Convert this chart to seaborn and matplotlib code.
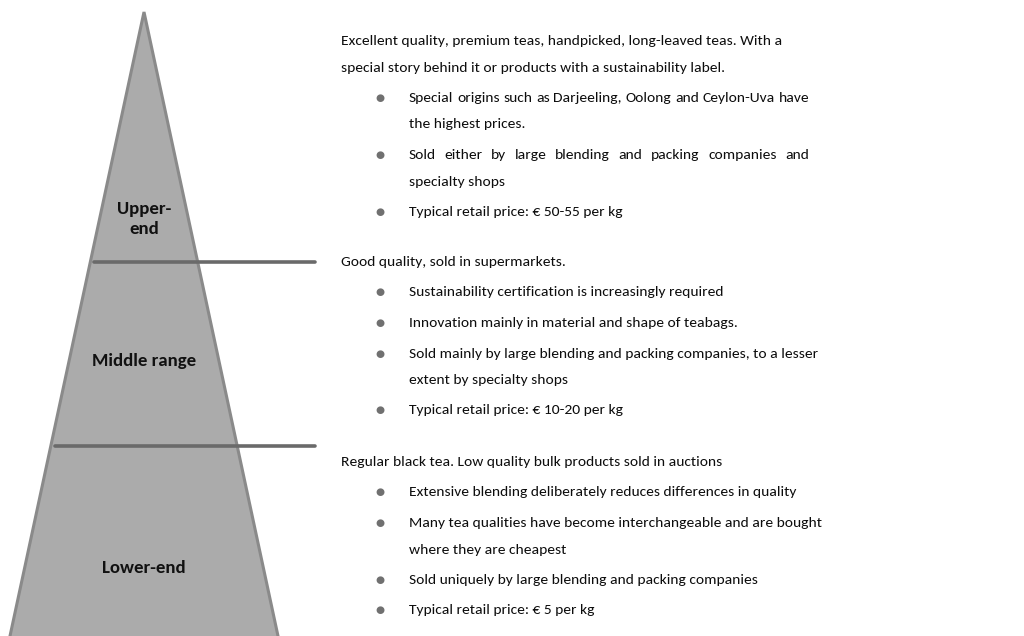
import matplotlib
matplotlib.use("Agg")
import matplotlib.pyplot as plt
import seaborn as sns
import pandas as pd
from matplotlib import font_manager

# ---------------- data ----------------
tier_labels = ["Upper-\nend", "Middle range", "Lower-end"]
tier_boundaries = [262, 446]          # divider heights (pixel units, top = 0)

intro_lines = [
    ["Excellent quality, premium teas, handpicked, long-leaved teas. With a",
     "special story behind it or products with a sustainability label."],
    ["Good quality, sold in supermarkets."],
    ["Regular black tea. Low quality bulk products sold in auctions"],
]
bullet_lines = [
    [["Special origins such as Darjeeling, Oolong and Ceylon-Uva have", "the highest prices."],
     ["Sold either by large blending and packing companies and", "specialty shops"],
     ["Typical retail price: \u20ac 50-55 per kg"]],
    [["Sustainability certification is increasingly required"],
     ["Innovation mainly in material and shape of teabags."],
     ["Sold mainly by large blending and packing companies, to a lesser", "extent by specialty shops"],
     ["Typical retail price: \u20ac 10-20 per kg"]],
    [["Extensive blending deliberately reduces differences in quality"],
     ["Many tea qualities have become interchangeable and are bought", "where they are cheapest"],
     ["Sold uniquely by large blending and packing companies"],
     ["Typical retail price: \u20ac 5 per kg"]],
]
justified = {("0", 0, 0), ("0", 1, 0)}   # (block, bullet, line) justified lines

# ---------------- layout ----------------
W, H = 1024, 636
sns.set_theme(style="white")
names = {f.name for f in font_manager.fontManager.ttflist}
main_font = "Lato"
for cand in ["Carlito", "Calibri", "Liberation Sans Narrow", "Lato"]:
    if cand in names:
        main_font = cand
        break
plt.rcParams["font.family"] = [main_font, "DejaVu Sans"]

fig = plt.figure(figsize=(W / 100, H / 100), dpi=100)
ax = fig.add_axes([0, 0, 1, 1])
ax.set_xlim(0, W)
ax.set_ylim(H, 0)
ax.axis("off")

apex = (144, 12)
base_y = 640
slope = 134 / 624.0

def left_x(y):
    return apex[0] - (y - apex[1]) * slope

def right_x(y):
    return apex[0] + (y - apex[1]) * slope

ax.fill([apex[0], left_x(base_y), right_x(base_y)], [apex[1], base_y, base_y],
        facecolor="#ababab", edgecolor="#8a8a8a", linewidth=2.2, zorder=1)

div_df = pd.DataFrame({
    "x": sum([[left_x(b) + 4, 315] for b in tier_boundaries], []),
    "y": sum([[b, b] for b in tier_boundaries], []),
    "seg": sum([[i, i] for i in range(len(tier_boundaries))], []),
})
sns.lineplot(data=div_df, x="x", y="y", units="seg", estimator=None,
             color="#6a6a6a", linewidth=2.6, ax=ax, sort=False, zorder=2)

renderer = fig.canvas.get_renderer()

def measure(s, size, weight="normal"):
    t = ax.text(0, 0, s, fontsize=size, fontweight=weight)
    w = t.get_window_extent(renderer).width
    t.remove()
    return w

# fit fonts to reference widths
fs = 10 * 440.0 / measure(intro_lines[0][0], 10)
lfs = 10 * 104.0 / measure("Middle range", 10, "bold")

label_y = [219, 361, 568]
for lab, ly in zip(tier_labels, label_y):
    ax.text(144, ly, lab, ha="center", va="center", fontsize=lfs,
            fontweight="bold", color="#111111", linespacing=1.3, zorder=3)

txt_color = "#0d0d0d"
x_intro, x_bullet, x_text, x_right = 341, 380, 409, 809
block_start = [41, 262, 462]
wrap_gap, para_gap = 26.5, 30.5

def draw_line(x, y, s, justify=False):
    if not justify:
        ax.text(x, y, s, fontsize=fs, color=txt_color, va="center", ha="left")
        return
    words = s.split(" ")
    widths = [measure(wd, fs) for wd in words]
    gap = (x_right - x - sum(widths)) / (len(words) - 1)
    cx = x
    for wd, ww in zip(words, widths):
        ax.text(cx, y, wd, fontsize=fs, color=txt_color, va="center", ha="left")
        cx += ww + gap

for b in range(3):
    y = block_start[b]
    for i, line in enumerate(intro_lines[b]):
        if i > 0:
            y += wrap_gap
        draw_line(x_intro, y, line)
    for j, blines in enumerate(bullet_lines[b]):
        y += para_gap
        ax.text(x_bullet, y, "\u25cf", fontsize=7.5, color="#707070", va="center",
                ha="center", family="DejaVu Sans")
        for k, line in enumerate(blines):
            if k > 0:
                y += wrap_gap
            draw_line(x_text, y, line, justify=(str(b), j, k) in justified)

fig.savefig("out.png", dpi=100, facecolor="white")
